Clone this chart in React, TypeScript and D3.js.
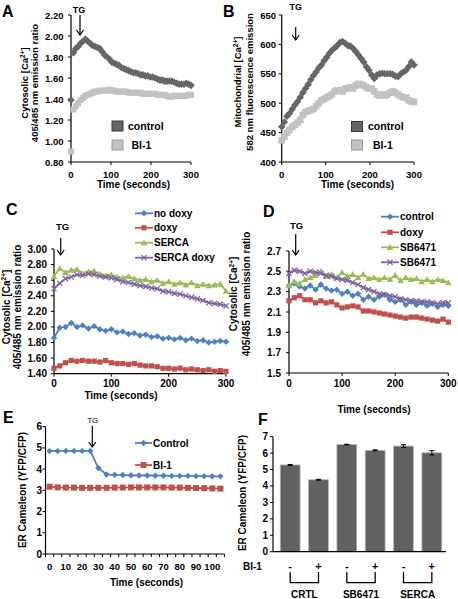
import React from "react";
import * as d3 from "d3";

const FONT = "'Liberation Sans', Arial, Helvetica, sans-serif";

// ---------- Data ----------
const timesAB = d3.range(0, 301, 6);
const aControl = [1.39, 1.84, 1.88, 1.9, 1.93, 1.95, 1.97, 1.95, 1.93, 1.91, 1.9, 1.89, 1.88, 1.85, 1.82, 1.8, 1.78, 1.75, 1.74, 1.73, 1.72, 1.7, 1.69, 1.68, 1.67, 1.66, 1.65, 1.65, 1.64, 1.63, 1.63, 1.62, 1.62, 1.61, 1.61, 1.6, 1.59, 1.58, 1.58, 1.57, 1.57, 1.57, 1.57, 1.56, 1.55, 1.54, 1.54, 1.54, 1.55, 1.54, 1.53];
const aBI1 = [0.9, 1.3, 1.33, 1.36, 1.39, 1.41, 1.43, 1.44, 1.45, 1.46, 1.47, 1.47, 1.48, 1.48, 1.48, 1.48, 1.49, 1.48, 1.48, 1.47, 1.47, 1.47, 1.47, 1.47, 1.46, 1.46, 1.46, 1.46, 1.46, 1.46, 1.45, 1.45, 1.45, 1.45, 1.45, 1.45, 1.44, 1.44, 1.44, 1.44, 1.43, 1.42, 1.42, 1.43, 1.43, 1.43, 1.43, 1.43, 1.43, 1.44, 1.44];
const bControl = [460, 468, 478, 483, 490, 497, 503, 510, 518, 525, 532, 540, 547, 553, 560, 565, 572, 578, 585, 590, 594, 598, 603, 605, 602, 598, 597, 593, 588, 582, 576, 570, 562, 556, 548, 542, 548, 550, 551, 550, 550, 550, 549, 546, 545, 550, 553, 556, 562, 570, 565];
const bBI1 = [437, 443, 450, 455, 460, 463, 467, 472, 480, 485, 487, 488, 490, 495, 500, 505, 507, 510, 512, 515, 520, 522, 522, 520, 525, 525, 527, 525, 530, 533, 532, 530, 527, 525, 525, 520, 515, 513, 515, 513, 515, 518, 520, 518, 515, 512, 510, 510, 505, 503, 502];

const timesCD = d3.range(0, 301, 10);
const cNoDoxy = [1.86, 1.99, 2.0, 2.05, 2.0, 2.02, 1.98, 2.01, 1.97, 1.95, 1.97, 1.93, 1.94, 1.91, 1.92, 1.89, 1.9, 1.87, 1.88, 1.85, 1.86, 1.84, 1.86, 1.83, 1.85, 1.82, 1.83, 1.8, 1.81, 1.82, 1.81];
const cDoxy = [1.47, 1.5, 1.54, 1.57, 1.56, 1.57, 1.56, 1.56, 1.55, 1.57, 1.54, 1.53, 1.53, 1.52, 1.53, 1.51, 1.5, 1.5, 1.49, 1.47, 1.47, 1.46, 1.47, 1.45, 1.46, 1.45, 1.44, 1.45, 1.43, 1.44, 1.43];
const cSerca = [2.65, 2.75, 2.7, 2.73, 2.74, 2.69, 2.71, 2.72, 2.68, 2.66, 2.67, 2.64, 2.63, 2.65, 2.62, 2.6, 2.61, 2.58, 2.6, 2.56, 2.58, 2.55, 2.57, 2.54, 2.57, 2.53, 2.55, 2.53, 2.54, 2.55, 2.46];
const cSercaDoxy = [2.49, 2.56, 2.62, 2.64, 2.67, 2.66, 2.68, 2.67, 2.65, 2.64, 2.63, 2.61, 2.58, 2.57, 2.55, 2.53, 2.52, 2.5, 2.49, 2.46, 2.45, 2.43, 2.42, 2.4, 2.38, 2.36, 2.34, 2.31, 2.3, 2.29, 2.27];

const dControl = [2.36, 2.38, 2.35, 2.33, 2.36, 2.32, 2.37, 2.33, 2.31, 2.32, 2.28, 2.3, 2.26, 2.28, 2.22, 2.25, 2.22, 2.25, 2.27, 2.22, 2.2, 2.22, 2.17, 2.2, 2.17, 2.19, 2.16, 2.18, 2.15, 2.17, 2.16];
const dDoxy = [2.21, 2.24, 2.26, 2.22, 2.22, 2.19, 2.21, 2.19, 2.2, 2.17, 2.14, 2.15, 2.16, 2.15, 2.11, 2.11, 2.1, 2.09, 2.08, 2.07, 2.06, 2.05, 2.04, 2.05, 2.05, 2.04, 2.03, 2.02, 2.01, 2.03, 2.0];
const dSB6471 = [2.36, 2.4, 2.38, 2.42, 2.44, 2.46, 2.5, 2.45, 2.47, 2.44, 2.49, 2.45, 2.47, 2.44, 2.47, 2.43, 2.44, 2.42, 2.44, 2.42, 2.46, 2.41, 2.44, 2.42, 2.43, 2.4, 2.42, 2.4, 2.42, 2.41, 2.39];
const dSB6471b = [2.48, 2.51, 2.5, 2.48, 2.5, 2.49, 2.48, 2.46, 2.45, 2.43, 2.42, 2.41, 2.39, 2.37, 2.34, 2.32, 2.3, 2.28, 2.27, 2.26, 2.25, 2.23, 2.22, 2.21, 2.21, 2.2, 2.2, 2.19, 2.18, 2.19, 2.19];

const timesE = d3.range(0, 106, 5);
const eControl = [4.85, 4.85, 4.86, 4.86, 4.86, 4.86, 4.05, 3.75, 3.73, 3.72, 3.71, 3.7, 3.7, 3.69, 3.69, 3.68, 3.68, 3.68, 3.67, 3.67, 3.66, 3.66];
const eBI1 = [3.17, 3.14, 3.13, 3.13, 3.12, 3.12, 3.12, 3.12, 3.13, 3.13, 3.14, 3.14, 3.14, 3.14, 3.14, 3.13, 3.13, 3.12, 3.11, 3.1, 3.09, 3.08];

const fBI1 = ["-", "+", "-", "+", "-", "+"];
const fGroups = ["CRTL", "SB6471", "SERCA"];
const fValues = [5.28, 4.38, 6.52, 6.17, 6.43, 6.02];
const fErrors = [0.03, 0.03, 0.02, 0.03, 0.08, 0.13];

const timeTicks = [0, 100, 200, 300];
const aYTicks = [0.8, 1.0, 1.2, 1.4, 1.6, 1.8, 2.0, 2.2];
const bYTicks = [400, 450, 500, 550, 600, 650];
const cYTicks = [1.4, 1.6, 1.8, 2.0, 2.2, 2.4, 2.6, 2.8, 3.0];
const dYTicks = [1.5, 1.7, 1.9, 2.1, 2.3, 2.5, 2.7];
const eYTicks = [0, 1, 2, 3, 4, 5, 6];
const eXTicks = d3.range(0, 101, 10);
const fYTicks = [0, 1, 2, 3, 4, 5, 6, 7];

const BLUE = "#4F81BD";
const RED = "#C0504D";
const GREEN = "#9BBB59";
const PURPLE = "#8064A2";
const DARK = "#666666";
const LIGHT = "#c2c2c2";

// ---------- Marker shapes ----------
type Shape = "diamond" | "square" | "triangle" | "cross";
function Marker({ shape, x, y, r, color }: { shape: Shape; x: number; y: number; r: number; color: string }) {
  if (shape === "diamond")
    return <path d={`M${x},${y - r}L${x + r},${y}L${x},${y + r}L${x - r},${y}Z`} fill={color} />;
  if (shape === "square") return <rect x={x - r} y={y - r} width={2 * r} height={2 * r} fill={color} />;
  if (shape === "triangle")
    return <path d={`M${x},${y - r}L${x + r},${y + r * 0.8}L${x - r},${y + r * 0.8}Z`} fill={color} />;
  return (
    <path d={`M${x - r},${y - r}L${x + r},${y + r}M${x - r},${y + r}L${x + r},${y - r}`} stroke={color} strokeWidth={1.3} fill="none" />
  );
}

function YLabel({ x, y, lines, size = 10 }: { x: number[]; y: number; lines: React.ReactNode[]; size?: number }) {
  return (
    <>
      {lines.map((l, i) => (
        <text key={i} transform={`translate(${x[i]},${y}) rotate(-90)`} textAnchor="middle" fontSize={size} fontWeight="bold">
          {l}
        </text>
      ))}
    </>
  );
}

const caLabel = (pre: string) => (
  <>
    {pre} [Ca<tspan dy={-3.5} fontSize={6.5}>2+</tspan>
    <tspan dy={3.5}>]</tspan>
  </>
);

function Arrow({ x, y1, y2 }: { x: number; y1: number; y2: number }) {
  return (
    <g stroke="#000" strokeWidth={1.2} fill="none">
      <line x1={x} y1={y1} x2={x} y2={y2} />
      <path d={`M${x - 3.5},${y2 - 5}L${x},${y2}L${x + 3.5},${y2 - 5}`} />
    </g>
  );
}

interface Series {
  times: number[];
  values: number[];
  color: string;
  shape: Shape;
  r: number;
  line?: boolean;
}

function Axes({
  x,
  y,
  xTicks,
  yTicks,
  yFmt,
  yLabelX,
  xLabelY,
  tickSize = 10,
}: {
  x: d3.ScaleLinear<number, number>;
  y: d3.ScaleLinear<number, number>;
  xTicks: number[];
  yTicks: number[];
  yFmt: (v: number) => string;
  yLabelX: number;
  xLabelY: number;
  tickSize?: number;
}) {
  const [x0, x1] = x.range();
  const [y0, y1] = y.range();
  return (
    <g>
      <line x1={x0} x2={x0} y1={y0} y2={y1} stroke="#000" strokeWidth={1.2} />
      <line x1={x0} x2={x1} y1={y0} y2={y0} stroke="#000" strokeWidth={1.2} />
      {yTicks.map((t) => (
        <g key={t}>
          <line x1={x0 - 3} x2={x0} y1={y(t)} y2={y(t)} stroke="#000" />
          <text x={yLabelX} y={y(t) + 3.5} textAnchor="end" fontSize={tickSize} fontWeight="bold">
            {yFmt(t)}
          </text>
        </g>
      ))}
      {xTicks.map((t) => (
        <g key={t}>
          <line x1={x(t)} x2={x(t)} y1={y0} y2={y0 + 3} stroke="#000" />
          <text x={x(t)} y={xLabelY} textAnchor="middle" fontSize={tickSize} fontWeight="bold">
            {t}
          </text>
        </g>
      ))}
    </g>
  );
}

function Plot({ x, y, series }: { x: d3.ScaleLinear<number, number>; y: d3.ScaleLinear<number, number>; series: Series[] }) {
  return (
    <g>
      {series.map((s, si) => {
        const pts = s.times.map((t, i) => [x(t), y(s.values[i])] as [number, number]);
        const line = d3.line()(pts) || "";
        return (
          <g key={si}>
            {s.line && <path d={line} stroke={s.color} strokeWidth={1.8} fill="none" />}
            {pts.map((p, i) => (
              <Marker key={i} shape={s.shape} x={p[0]} y={p[1]} r={s.r} color={s.color} />
            ))}
          </g>
        );
      })}
    </g>
  );
}

function LineLegend({ x0, x1, ys, items }: { x0: number; x1: number; ys: number[]; items: { label: string; color: string; shape: Shape; r: number }[] }) {
  return (
    <g>
      {items.map((it, i) => (
        <g key={i}>
          <line x1={x0} x2={x1} y1={ys[i]} y2={ys[i]} stroke={it.color} strokeWidth={1.8} />
          <Marker shape={it.shape} x={(x0 + x1) / 2} y={ys[i]} r={it.r} color={it.color} />
          <text x={x1 + 1} y={ys[i] + 3.5} fontSize={10} fontWeight="bold">
            {it.label}
          </text>
        </g>
      ))}
    </g>
  );
}

function BoxLegend({ x, ys, textX, items }: { x: number; ys: number[]; textX: number[]; items: { label: string; color: string; stroke: string }[] }) {
  return (
    <g>
      {items.map((it, i) => (
        <g key={i}>
          <rect x={x} y={ys[i]} width={11} height={10} fill={it.color} stroke={it.stroke} strokeWidth={1} />
          <text x={textX[i]} y={ys[i] + 8.5} fontSize={10.5} fontWeight="bold">
            {it.label}
          </text>
        </g>
      ))}
    </g>
  );
}

export default function App() {
  // Panel A
  const xA = d3.scaleLinear().domain([0, 300]).range([71, 191]);
  const yA = d3.scaleLinear().domain([0.8, 2.2]).range([162, 15]);
  // Panel B
  const xB = d3.scaleLinear().domain([0, 300]).range([281.7, 414]);
  const yB = d3.scaleLinear().domain([400, 650]).range([162, 15]);
  // Panel C
  const xC = d3.scaleLinear().domain([0, 300]).range([54, 226]);
  const yC = d3.scaleLinear().domain([1.4, 3.0]).range([373.7, 249]);
  // Panel D
  const xD = d3.scaleLinear().domain([0, 300]).range([289, 448.3]);
  const yD = d3.scaleLinear().domain([1.5, 2.7]).range([373, 251]);
  // Panel E
  const xE = d3.scaleLinear().domain([-2.5, 107.5]).range([45.5, 224.5]);
  const yE = d3.scaleLinear().domain([0, 6]).range([554, 426.7]);
  // Panel F
  const xF = d3.scaleBand<number>().domain(d3.range(fValues.length)).range([276, 446]).paddingInner(0.3).paddingOuter(0.15);
  const yF = d3.scaleLinear().domain([0, 7]).range([551.7, 436.7]);

  const f2 = d3.format(".2f");
  const f1 = d3.format(".1f");
  const f0 = d3.format("d");

  return (
    <svg width={458} height={599} style={{ position: "absolute", left: 0, top: 0, background: "#fff" }} fontFamily={FONT}>
      <rect width={458} height={599} fill="#fff" />

      {/* Panel letters */}
      <g fontSize={16} fontWeight="bold">
        <text x={2} y={17}>A</text>
        <text x={223} y={17}>B</text>
        <text x={6} y={215}>C</text>
        <text x={263} y={217}>D</text>
        <text x={3} y={423}>E</text>
        <text x={258} y={425}>F</text>
      </g>

      {/* ---------- A ---------- */}
      <Axes x={xA} y={yA} xTicks={timeTicks} yTicks={aYTicks} yFmt={f2} yLabelX={63.5} xLabelY={178} tickSize={9.5} />
      <Plot
        x={xA}
        y={yA}
        series={[
          { times: timesAB, values: aBI1, color: LIGHT, shape: "square", r: 3 },
          { times: timesAB, values: aControl, color: DARK, shape: "diamond", r: 3.8 },
        ]}
      />
      <text x={79} y={12.5} textAnchor="middle" fontSize={9} fontWeight="bold">TG</text>
      <Arrow x={80} y1={15} y2={35} />
      <BoxLegend
        x={112}
        ys={[121, 140]}
        textX={[128, 131.5]}
        items={[
          { label: "control", color: DARK, stroke: "#3a3a3a" },
          { label: "BI-1", color: LIGHT, stroke: "#9a9a9a" },
        ]}
      />
      <text x={133.5} y={188} textAnchor="middle" fontSize={10} fontWeight="bold">Time (seconds)</text>
      <YLabel x={[28, 37.5]} y={83} size={9.5} lines={[caLabel("Cytosolic"), "405/485 nm emission ratio"]} />

      {/* ---------- B ---------- */}
      <Axes x={xB} y={yB} xTicks={timeTicks} yTicks={bYTicks} yFmt={f0} yLabelX={276} xLabelY={178} tickSize={9.5} />
      <Plot
        x={xB}
        y={yB}
        series={[
          { times: timesAB, values: bBI1, color: LIGHT, shape: "square", r: 3.3 },
          { times: timesAB, values: bControl, color: DARK, shape: "diamond", r: 3.8 },
        ]}
      />
      <text x={295.7} y={10} textAnchor="middle" fontSize={9} fontWeight="bold">TG</text>
      <Arrow x={295.7} y1={27} y2={40} />
      <BoxLegend
        x={351.5}
        ys={[121.5, 140]}
        textX={[368, 373]}
        items={[
          { label: "control", color: DARK, stroke: "#3a3a3a" },
          { label: "BI-1", color: LIGHT, stroke: "#9a9a9a" },
        ]}
      />
      <text x={357.5} y={188} textAnchor="middle" fontSize={10} fontWeight="bold">Time (seconds)</text>
      <YLabel x={[241, 252.5]} y={82} size={9.5} lines={[caLabel("Mitochondrial"), "582 nm fluorescence emission"]} />

      {/* ---------- C ---------- */}
      <Axes x={xC} y={yC} xTicks={timeTicks} yTicks={cYTicks} yFmt={f2} yLabelX={47} xLabelY={387} tickSize={10} />
      <Plot
        x={xC}
        y={yC}
        series={[
          { times: timesCD, values: cNoDoxy, color: BLUE, shape: "diamond", r: 3.2, line: true },
          { times: timesCD, values: cDoxy, color: RED, shape: "square", r: 2.6, line: true },
          { times: timesCD, values: cSerca, color: GREEN, shape: "triangle", r: 3.3, line: true },
          { times: timesCD, values: cSercaDoxy, color: PURPLE, shape: "cross", r: 2.6, line: true },
        ]}
      />
      <text x={62.5} y={230} textAnchor="middle" fontSize={9.5} fontWeight="bold">TG</text>
      <Arrow x={60.7} y1={238} y2={255} />
      <LineLegend
        x0={135}
        x1={153}
        ys={[213.3, 227.8, 242.7, 257.7]}
        items={[
          { label: "no doxy", color: BLUE, shape: "diamond", r: 3.2 },
          { label: "doxy", color: RED, shape: "square", r: 2.6 },
          { label: "SERCA", color: GREEN, shape: "triangle", r: 3.3 },
          { label: "SERCA doxy", color: PURPLE, shape: "cross", r: 2.6 },
        ]}
      />
      <text x={121} y={399} textAnchor="middle" fontSize={10} fontWeight="bold">Time (seconds)</text>
      <YLabel x={[9.5, 20.5]} y={307} size={10} lines={[caLabel("Cytosolic"), "405/485 nm emission ratio"]} />

      {/* ---------- D ---------- */}
      <Axes x={xD} y={yD} xTicks={timeTicks} yTicks={dYTicks} yFmt={f1} yLabelX={281} xLabelY={387} tickSize={10} />
      <Plot
        x={xD}
        y={yD}
        series={[
          { times: timesCD, values: dControl, color: BLUE, shape: "diamond", r: 3.2, line: true },
          { times: timesCD, values: dDoxy, color: RED, shape: "square", r: 2.6, line: true },
          { times: timesCD, values: dSB6471, color: GREEN, shape: "triangle", r: 3.3, line: true },
          { times: timesCD, values: dSB6471b, color: PURPLE, shape: "cross", r: 2.6, line: true },
        ]}
      />
      <text x={296.5} y={229} textAnchor="middle" fontSize={9.5} fontWeight="bold">TG</text>
      <Arrow x={295.7} y1={234} y2={255} />
      <LineLegend
        x0={381}
        x1={399}
        ys={[216.7, 232.3, 247.3, 262.3]}
        items={[
          { label: "control", color: BLUE, shape: "diamond", r: 3.2 },
          { label: "doxy", color: RED, shape: "square", r: 2.6 },
          { label: "SB6471", color: GREEN, shape: "triangle", r: 3.3 },
          { label: "SB6471", color: PURPLE, shape: "cross", r: 2.6 },
        ]}
      />
      <text x={374} y={413} textAnchor="middle" fontSize={10} fontWeight="bold">Time (seconds)</text>
      <YLabel x={[237, 249.5]} y={294} size={10} lines={[caLabel("Cytosolic"), "405/485 nm emission ratio"]} />

      {/* ---------- E ---------- */}
      <g>
        <line x1={45.5} x2={45.5} y1={554} y2={426.7} stroke="#000" strokeWidth={1.2} />
        <line x1={45.5} x2={224.5} y1={554} y2={554} stroke="#000" strokeWidth={1.2} />
        {eYTicks.map((t) => (
          <g key={t}>
            <line x1={42.5} x2={45.5} y1={yE(t)} y2={yE(t)} stroke="#000" />
            <text x={42} y={yE(t) + 3.5} textAnchor="end" fontSize={10} fontWeight="bold">{t}</text>
          </g>
        ))}
        {timesE.concat([105 + 5]).map((t) => (
          <line key={t} x1={xE(t - 2.5)} x2={xE(t - 2.5)} y1={554} y2={557} stroke="#000" />
        ))}
        {eXTicks.map((t) => (
          <text key={t} x={xE(t)} y={570} textAnchor="middle" fontSize={9.5} fontWeight="bold">{t}</text>
        ))}
      </g>
      <Plot
        x={xE}
        y={yE}
        series={[
          { times: timesE, values: eBI1, color: RED, shape: "square", r: 3, line: true },
          { times: timesE, values: eControl, color: BLUE, shape: "diamond", r: 3.2, line: true },
        ]}
      />
      <text x={92.7} y={423} textAnchor="middle" fontSize={8}>TG</text>
      <Arrow x={92.3} y1={426} y2={447} />
      <g>
        <line x1={135} x2={152} y1={443} y2={443} stroke={BLUE} strokeWidth={1.8} />
        <Marker shape="diamond" x={143.5} y={443} r={3.2} color={BLUE} />
        <text x={153} y={446.5} fontSize={10} fontWeight="bold">Control</text>
        <line x1={135} x2={152} y1={465} y2={465} stroke={RED} strokeWidth={1.8} />
        <Marker shape="square" x={143.5} y={465} r={3} color={RED} />
        <text x={153} y={468.5} fontSize={10} fontWeight="bold">BI-1</text>
      </g>
      <text x={146.5} y={586} textAnchor="middle" fontSize={10} fontWeight="bold">Time (seconds)</text>
      <YLabel x={[25.5]} y={490} size={10} lines={["ER Cameleon  (YFP/CFP)"]} />

      {/* ---------- F ---------- */}
      <g>
        {fValues.map((v, i) => {
          const bx = xF(i)!;
          const w = xF.bandwidth();
          const cx = bx + w / 2;
          return (
            <g key={i}>
              <rect x={bx} y={yF(v)} width={w} height={yF(0) - yF(v)} fill="#616161" stroke="#b8b8b8" strokeWidth={0.8} />
              <g stroke="#000" strokeWidth={1}>
                <line x1={cx} x2={cx} y1={yF(v + fErrors[i])} y2={yF(v - fErrors[i])} />
                <line x1={cx - 2.5} x2={cx + 2.5} y1={yF(v + fErrors[i])} y2={yF(v + fErrors[i])} />
                <line x1={cx - 2.5} x2={cx + 2.5} y1={yF(v - fErrors[i])} y2={yF(v - fErrors[i])} />
              </g>
              <text x={cx} y={570} textAnchor="middle" fontSize={11} fontWeight="bold">{fBI1[i]}</text>
            </g>
          );
        })}
        <line x1={273} x2={273} y1={551.7} y2={436.7} stroke="#000" strokeWidth={1.2} />
        <line x1={273} x2={446} y1={551.7} y2={551.7} stroke="#000" strokeWidth={1.2} />
        {fYTicks.map((t) => (
          <g key={t}>
            <line x1={270} x2={273} y1={yF(t)} y2={yF(t)} stroke="#000" />
            <text x={268} y={yF(t) + 3.5} textAnchor="end" fontSize={10} fontWeight="bold">{t}</text>
          </g>
        ))}
        <text x={243} y={570} fontSize={10} fontWeight="bold">BI-1</text>
        {fGroups.map((g, gi) => {
          const a = xF(gi * 2)! + xF.bandwidth() / 2;
          const b = xF(gi * 2 + 1)! + xF.bandwidth() / 2;
          return (
            <g key={g}>
              <path d={`M${a},572L${a},582.7L${b},582.7L${b},572`} stroke="#000" strokeWidth={1.3} fill="none" />
              <text x={(a + b) / 2} y={597.5} textAnchor="middle" fontSize={10} fontWeight="bold">{g}</text>
            </g>
          );
        })}
      </g>
      <YLabel x={[245.5]} y={493} size={10} lines={["ER Cameleon  (YFP/CFP)"]} />
    </svg>
  );
}
